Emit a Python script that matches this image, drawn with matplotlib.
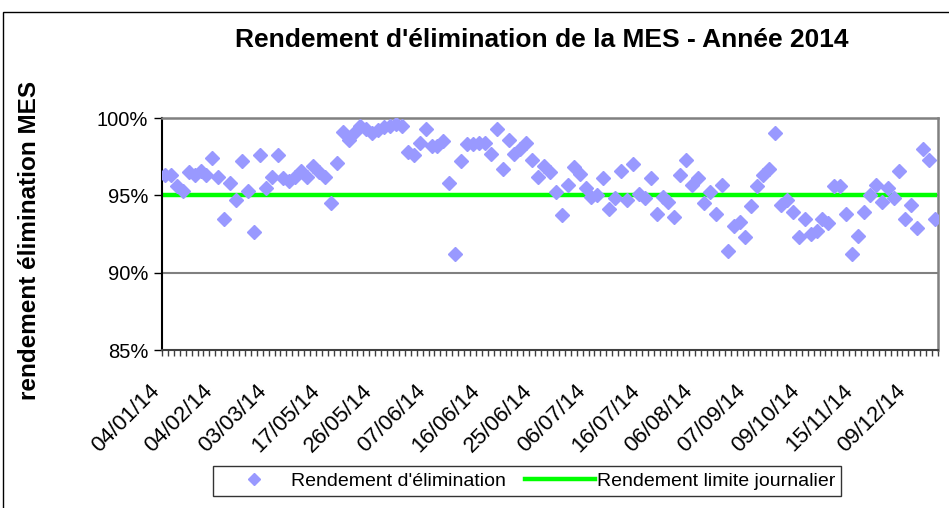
import numpy as np
import matplotlib.pyplot as plt
from matplotlib.lines import Line2D
from matplotlib.patches import Rectangle
from matplotlib.transforms import ScaledTranslation

plt.rcParams['font.family'] = ['Liberation Sans', 'DejaVu Sans']

# rendement journalier (%), un point par jour de mesure
rendement = [
    96.3, 96.3, 95.6, 95.3, 96.5, 96.3, 96.6, 96.3, 97.4, 96.2,
    93.5, 95.8, 94.7, 97.2, 95.3, 92.6, 97.6, 95.5, 96.2, 97.6,
    96.1, 95.9, 96.2, 96.6, 96.2, 96.9, 96.5, 96.2, 94.5, 97.1,
    99.1, 98.6, 99.1, 99.5, 99.3, 99.0, 99.2, 99.4, 99.5, 99.6,
    99.5, 97.8, 97.6, 98.4, 99.3, 98.2, 98.2, 98.5, 95.8, 91.2,
    97.2, 98.3, 98.3, 98.4, 98.4, 97.7, 99.3, 96.7, 98.6, 97.7,
    98.0, 98.4, 97.3, 96.2, 96.9, 96.5, 95.2, 93.7, 95.7, 96.8,
    96.4, 95.5, 94.9, 95.0, 96.1, 94.1, 94.8, 96.6, 94.7, 97.0,
    95.1, 94.8, 96.1, 93.8, 94.9, 94.6, 93.6, 96.3, 97.3, 95.7,
    96.1, 94.5, 95.2, 93.8, 95.7, 91.4, 93.0, 93.3, 92.3, 94.3,
    95.6, 96.3, 96.7, 99.0, 94.4, 94.7, 93.9, 92.3, 93.5, 92.5,
    92.7, 93.5, 93.2, 95.6, 95.6, 93.8, 91.2, 92.4, 93.9, 95.0,
    95.7, 94.6, 95.5, 94.8, 96.6, 93.5, 94.4, 92.9, 98.0, 97.3,
    93.5,
]
limite = 95.0

# dates affichées (une étiquette tous les 9 jours de mesure)
dates_affichees = ['04/01/14', '04/02/14', '03/03/14', '17/05/14', '26/05/14',
                   '07/06/14', '16/06/14', '25/06/14', '06/07/14', '16/07/14',
                   '06/08/14', '07/09/14', '09/10/14', '15/11/14', '09/12/14']
pas_etiquette = 9

n = len(rendement)
x = np.arange(n)

fig = plt.figure(figsize=(9.49, 5.08), dpi=100)
ax = fig.add_axes([162 / 949, 1 - 350 / 508, 776 / 949, 232 / 508])

ax.plot(x, [limite] * n, color='#00FF00', lw=3.2, zorder=2)
ax.plot(x, rendement, ls='none', marker='D', ms=7.2, color='#9999FF',
        mec='#9999FF', zorder=3)

ax.set_xlim(-0.5, n - 0.5)
ax.set_ylim(85, 100)
ax.set_yticks([85, 90, 95, 100])
ax.set_yticklabels(['85%', '90%', '95%', '100%'], fontsize=14.5)
for v in [90, 95]:
    ax.axhline(v, color='#808080', lw=1.5, zorder=1)

ax.set_xticks(x[::pas_etiquette])
ax.set_xticklabels(dates_affichees, rotation=45, ha='right', va='top',
                   rotation_mode='anchor', fontsize=16)
ax.set_xticks(np.arange(n + 1) - 0.5, minor=True)
ax.tick_params(axis='x', which='major', length=0, pad=22)
ax.tick_params(axis='x', which='minor', length=4, width=1, color='#404040')
ax.tick_params(axis='y', length=6, width=1, pad=4)
for lab in ax.get_xticklabels():
    lab.set_transform(lab.get_transform() + ScaledTranslation(-0.16, 0, fig.dpi_scale_trans))

ax.spines['left'].set_color('black')
ax.spines['left'].set_linewidth(1.5)
ax.spines['bottom'].set_color('#404040')
ax.spines['bottom'].set_linewidth(1.5)
for s in ['top', 'right']:
    ax.spines[s].set_color('#808080')
    ax.spines[s].set_linewidth(1.8)

fig.text(542 / 949, 1 - 40 / 508, "Rendement d'élimination de la MES - Année 2014",
         ha='center', va='center', fontsize=19, fontweight='bold')
fig.text(30 / 949, 1 - 240 / 508, 'rendement élimination MES', rotation=90,
         ha='center', va='center', fontsize=17.5, fontweight='bold')

handles = [Line2D([], [], ls='none', marker='D', ms=6.5, color='#9999FF'),
           Line2D([], [], color='#00FF00', lw=3.2)]
leg = fig.legend(handles, ["Rendement d'élimination", 'Rendement limite journalier'],
                 loc='center', bbox_to_anchor=(527 / 949, 1 - 481 / 508), ncol=2,
                 fontsize=14, frameon=True, fancybox=False, edgecolor='black',
                 handlelength=3.6, handletextpad=0.1, columnspacing=1.0,
                 borderpad=0.3)
leg.get_frame().set_linewidth(1.0)

# cadre de la zone graphique
fig.patches.append(Rectangle((3 / 949, -0.02), 1.1, 1 - 12 / 508 + 0.02,
                             transform=fig.transFigure, fill=False,
                             edgecolor='black', lw=1.0))

fig.savefig('out.png', dpi=100)
